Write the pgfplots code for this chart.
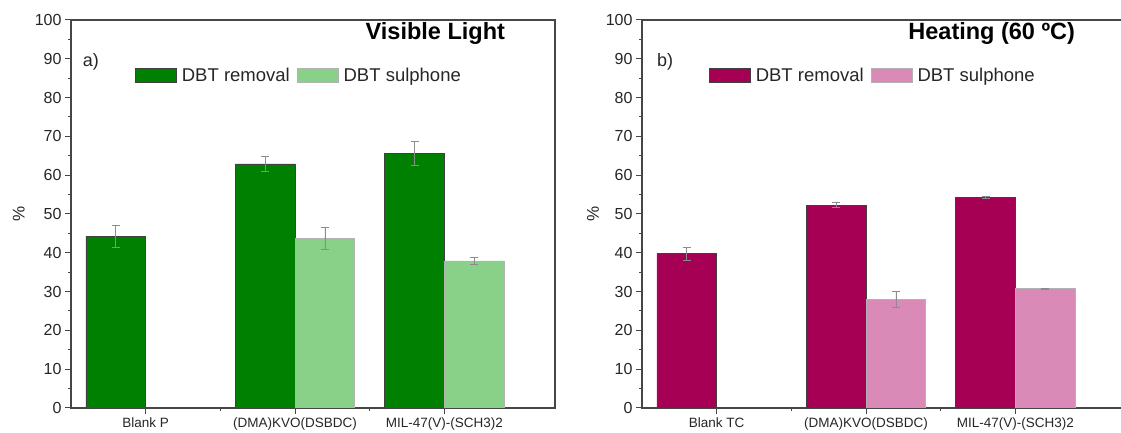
\documentclass[border=0pt]{standalone}
\usepackage{fontspec}
\setmainfont{Liberation Sans}
\usepackage{pgfplots}
\pgfplotsset{compat=1.18}
\definecolor{dgreen}{RGB}{0,128,0}
\definecolor{lgreen}{RGB}{137,208,137}
\definecolor{crim}{RGB}{165,0,84}
\definecolor{lpink}{RGB}{217,138,182}
\definecolor{axgray}{RGB}{70,70,70}
\pgfplotsset{
  mybase/.style={
    scale only axis, width=484pt, height=388pt,
    anchor=south west,
    ybar,
    xmin=-0.5, xmax=2.74, ymin=0, ymax=100,
    axis line style={draw=axgray, line width=1.3pt},
    xtick={0,1,2}, minor xtick={0.5,1.5},
    ytick={0,10,...,100}, minor ytick={5,15,...,95},
    tick align=outside, tick pos=left,
    major tick length=6pt, minor tick length=3pt,
    every tick/.style={axgray, line width=1pt},
    tick label style={font=\fontsize{16}{18}\selectfont, text=black!85},
    xticklabel style={font=\fontsize{13.5}{15}\selectfont, text=black!85},
    /pgf/number format/assume math mode=true,
    ylabel={\%},
    ylabel style={font=\fontsize{17}{19}\selectfont, text=black!85, anchor=center},
    legend columns=2,
    legend style={draw=none, fill=none, inner sep=0pt, anchor=west,
      font=\fontsize{18.5}{20}\selectfont, text=black!85,
      /tikz/every odd column/.append style={column sep=3pt},
      /tikz/every even column/.append style={column sep=5pt}},
    legend image code/.code={\draw[##1] (0pt,-7pt) rectangle (41pt,7pt);},
    error bars/y dir=both, error bars/y explicit,
    error bars/error bar style={black!45, line width=0.7pt},
    error bars/error mark options={rotate=90, mark size=4pt, black!45, line width=0.7pt},
  },
}
\begin{document}
\begin{tikzpicture}
% Left panel
\begin{axis}[mybase, at={(71pt,25pt)},
  xticklabels={Blank P,(DMA)KVO(DSBDC),MIL-47(V)-(SCH3)2},
  ylabel style={at={(axis description cs:-0.108,0.5)}},
  legend style={at={(axis description cs:0.132,0.858)}}]
\addplot[fill=dgreen, draw=black!75, line width=0.8pt, bar width=0.4, bar shift=-0.2]
  coordinates {(0,44.3) +- (0,2.8) (1,62.9) +- (0,1.9) (2,65.6) +- (0,3.0)};
\addplot[fill=lgreen, draw=black!30, line width=0.8pt, bar width=0.4, bar shift=0.2]
  coordinates {(1,43.7) +- (0,2.9) (2,37.9) +- (0,0.8)};
\legend{DBT removal,DBT sulphone}
\node[anchor=base east, font=\fontsize{23.5}{26}\selectfont\bfseries, inner sep=0pt]
  at ([yshift=-19.5pt]rel axis cs:0.897,1) {Visible Light};
\node[anchor=base west, font=\fontsize{18}{20}\selectfont, inner sep=0pt, text=black!85]
  at ([yshift=-47pt]rel axis cs:0.024,1) {a)};
\end{axis}
% Right panel
\begin{axis}[mybase, at={(642pt,25pt)},
  xticklabels={Blank TC,(DMA)KVO(DSBDC),MIL-47(V)-(SCH3)2},
  ylabel style={at={(axis description cs:-0.101,0.5)}},
  legend style={at={(axis description cs:0.138,0.858)}}]
\addplot[fill=crim, draw=black!75, line width=0.8pt, bar width=0.4, bar shift=-0.2]
  coordinates {(0,39.8) +- (0,1.7) (1,52.3) +- (0,0.7) (2,54.3) +- (0,0.3)};
\addplot[fill=lpink, draw=black!30, line width=0.8pt, bar width=0.4, bar shift=0.2]
  coordinates {(1,28.0) +- (0,2.0) (2,30.8) +- (0,0.15)};
\legend{DBT removal,DBT sulphone}
\node[anchor=base east, font=\fontsize{23.5}{26}\selectfont\bfseries, inner sep=0pt]
  at ([yshift=-19.5pt]rel axis cs:0.895,1) {Heating (60 ºC)};
\node[anchor=base west, font=\fontsize{18}{20}\selectfont, inner sep=0pt, text=black!85]
  at ([yshift=-47pt]rel axis cs:0.031,1) {b)};
\end{axis}
\pgfresetboundingbox
\path[use as bounding box] (0pt,0pt) rectangle (1121pt,433pt);
\end{tikzpicture}
\end{document}
